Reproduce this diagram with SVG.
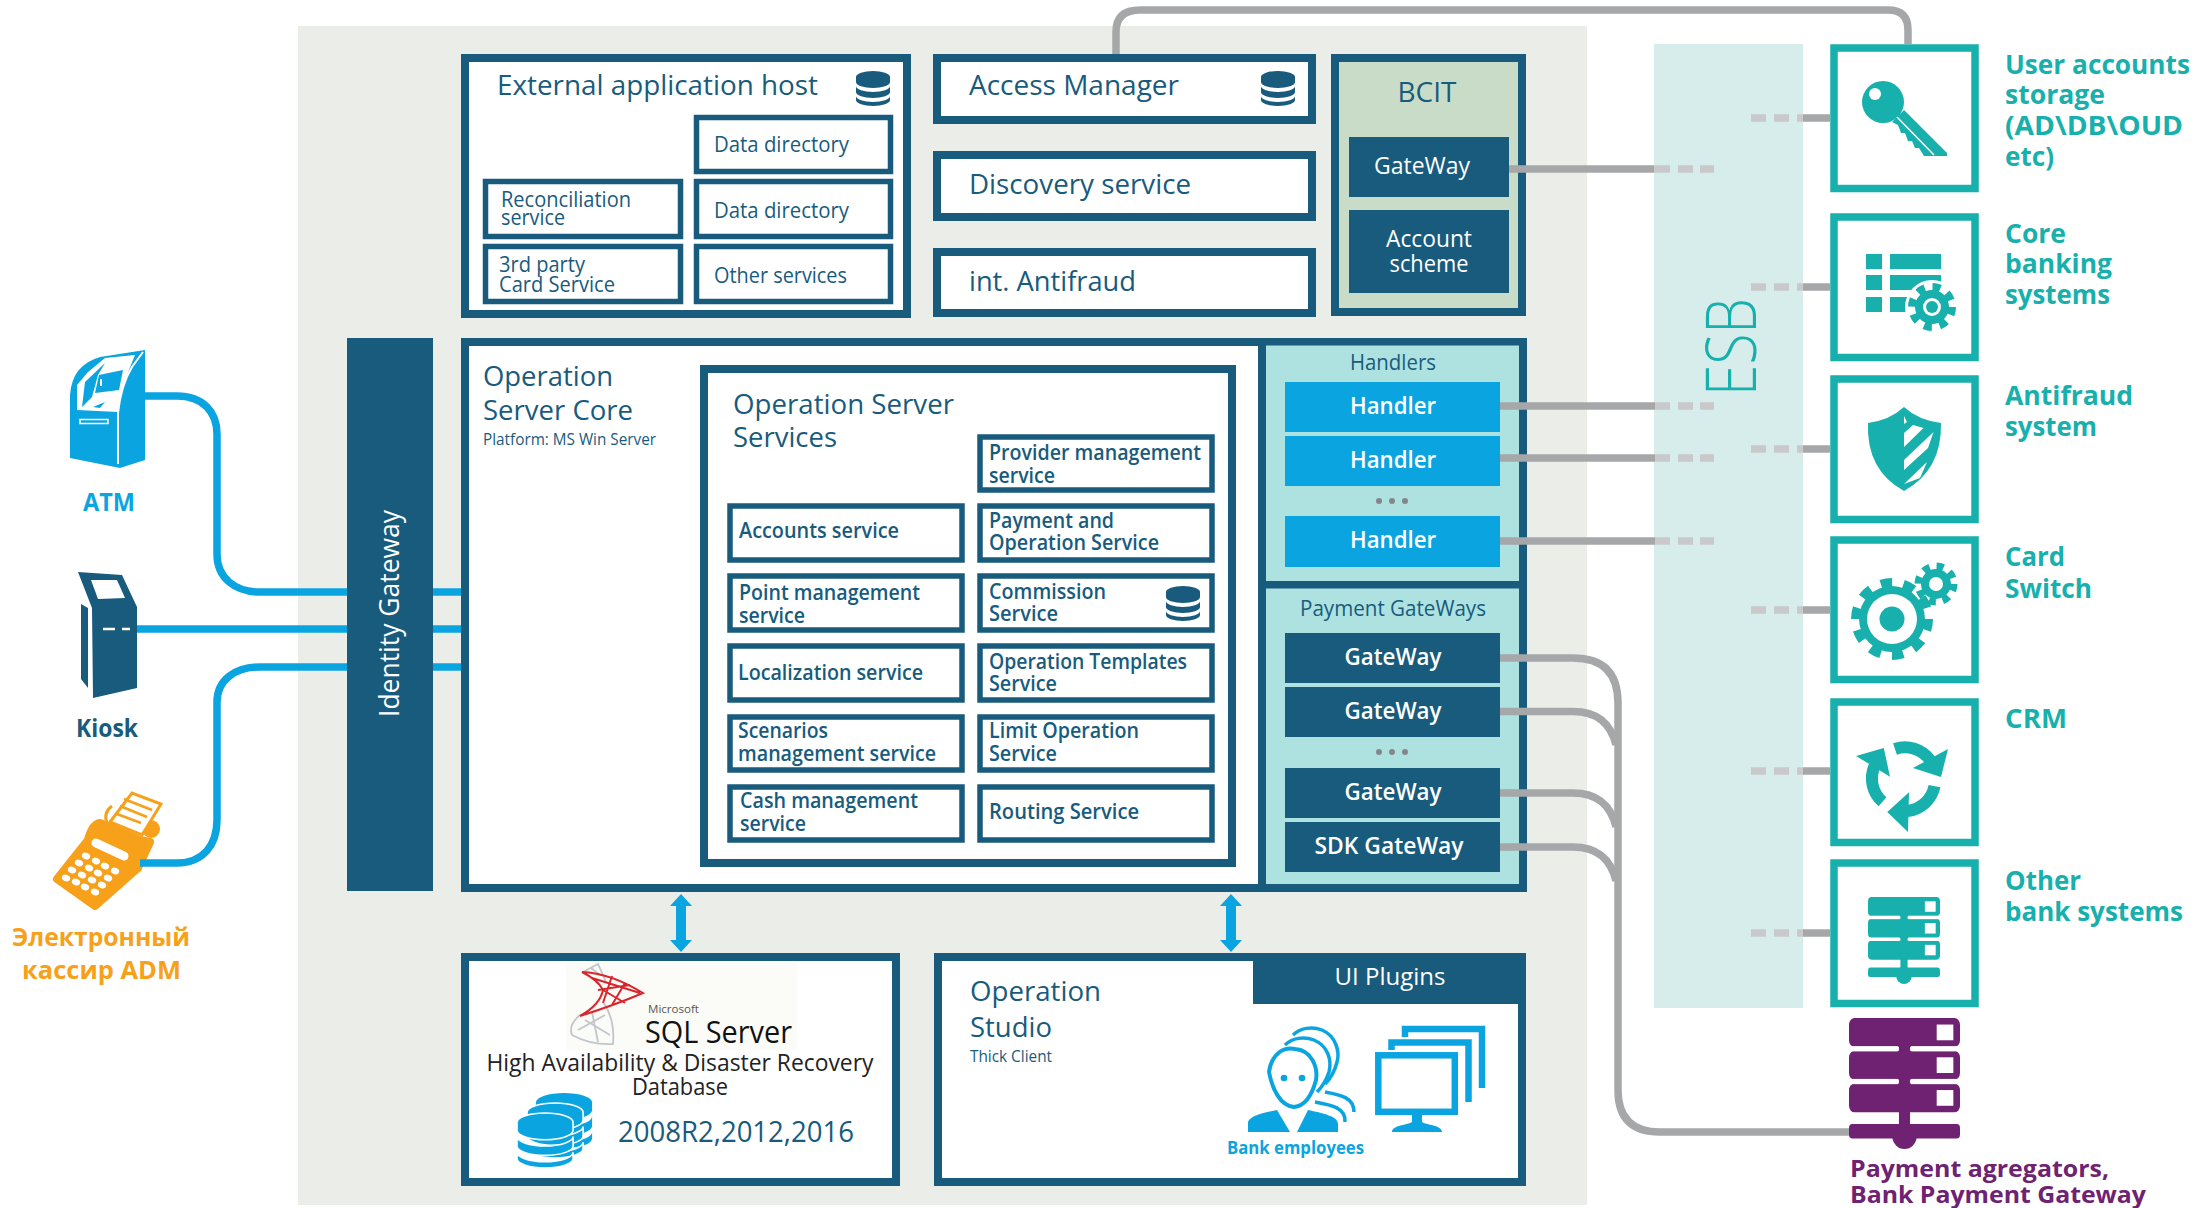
<svg xmlns="http://www.w3.org/2000/svg" width="2207" height="1208" viewBox="0 0 2207 1208">
<style>
text{font-family:"Open Sans","Noto Sans","Liberation Sans",sans-serif;fill:#185b7d}
.b{fill:#fff;stroke:#185b7d;stroke-width:8}
.i{fill:#fff;stroke:#185b7d;stroke-width:5.5}
.d{fill:#185b7d}
.s{font-size:21px}
.m{font-size:21px;font-weight:600}
.l{font-size:27px}
.w{fill:#fff}
.h{fill:#fff;font-size:24px;font-weight:600}
.t{fill:#17b0ad;font-size:27px;font-weight:700}
.tb{fill:#fff;stroke:#17b0ad;stroke-width:7.5}
.blue{fill:none;stroke:#0aa5e1;stroke-width:7.5}
.gray{fill:none;stroke:#a6a7a9;stroke-width:7.5}
.dash{fill:none;stroke:#c9c8ca;stroke-width:7.5}
.c{text-anchor:middle}
.ic{fill:#17b0ad}
</style>
<defs>
<g id="db">
<path d="M0 6A17 6 0 0 1 34 6V11A17 6 0 0 1 0 11Z"/>
<path d="M0 15A17 6 0 0 0 34 15V21A17 6 0 0 1 0 21Z"/>
<path d="M0 25A17 6 0 0 0 34 25V29A17 6 0 0 1 0 29Z"/>
</g>
<g id="srv">
<rect x="0" y="0" width="100" height="22" rx="5"/><rect x="0" y="25" width="100" height="22" rx="5"/><rect x="0" y="50" width="100" height="22" rx="5"/>
<rect x="45" y="20" width="10" height="62"/><rect x="0" y="81" width="100" height="11" rx="3"/>
<ellipse cx="50" cy="90" rx="11" ry="10"/>
<rect x="0" y="21.5" width="44" height="4" fill="#fff"/><rect x="56" y="21.5" width="44" height="4" fill="#fff"/>
<rect x="0" y="46.5" width="44" height="4" fill="#fff"/><rect x="56" y="46.5" width="44" height="4" fill="#fff"/>
<rect x="79" y="5" width="15" height="12" fill="#fff"/><rect x="79" y="30" width="15" height="12" fill="#fff"/><rect x="79" y="55" width="15" height="12" fill="#fff"/>
</g>
<ellipse id="key" rx="4.300" ry="3.200" transform="rotate(25)" fill="#fff"/>
</defs>

<rect id="background" x="298" y="26" width="1289" height="1179" fill="#ebeee8"/>
<rect id="esb-band" x="1654" y="44" width="149" height="964" fill="#d7edeb"/>

<g id="atm">
<path d="M70 458V395Q72 365 100 357L145 350V460L120 468Z" fill="#0aa5e1"/>
<path d="M118 464V413Q121 385 132 367L143 352" fill="none" stroke="#fff" stroke-width="2"/>
<path d="M77 410V385L88 372L105 358L135 355Q122 385 118 412Z" fill="#fff"/>
<path d="M85 382L105 363L98 375L92 397L82 407Z" fill="#0aa5e1"/>
<path d="M99 375L123 370L119 390L95 393Z" fill="#0aa5e1"/>
<path d="M93 407L105 402L100 408Z" fill="#0aa5e1"/>
<path d="M101 379V386" stroke="#fff" stroke-width="2"/>
<path d="M80 419.500H108V423.500H80Z" fill="none" stroke="#fff" stroke-width="1.500"/>
<text x="83" y="511" font-size="25" font-weight="700" textLength="52" lengthAdjust="spacingAndGlyphs" style="fill:#0aa5e1">ATM</text>
</g>
<g id="kiosk">
<path d="M78 572L122 575L137 607V688L93 698L92 608Z" fill="#185b7d"/>
<path d="M81 604L88 608V688L81 679Z" fill="#185b7d"/>
<path d="M91 580L117 580L125 598L98 599Z" fill="#fff"/>
<path d="M103 629H115M122 629H130" stroke="#fff" stroke-width="2.500"/>
<text x="76" y="737" font-size="25" font-weight="700" textLength="62" lengthAdjust="spacingAndGlyphs">Kiosk</text>
</g>
<g id="adm">
<circle cx="151" cy="829" r="9" fill="#f7a11a"/>
<path d="M107 824Q103 812 112 806" fill="none" stroke="#f7a11a" stroke-width="3"/>
<path d="M57 879L88 840Q92 824 100 823L140 840L150 842L138 868L95 906Z" fill="#f7a11a" stroke="#f7a11a" stroke-width="8" stroke-linejoin="round"/>
<path d="M110 822L132 793L161 804L142 835Z" fill="#fff" stroke="#f7a11a" stroke-width="3"/>
<path d="M124 799L152 810M120 806L147 817M117 814L141 823" stroke="#f7a11a" stroke-width="2.500"/>
<path d="M96 843L124 856" stroke="#fff" stroke-width="9" stroke-linecap="round"/>
<use href="#key" x="66" y="878"/><use href="#key" x="76" y="882"/><use href="#key" x="85" y="887"/><use href="#key" x="95" y="892"/>
<use href="#key" x="72" y="870"/><use href="#key" x="82" y="875"/><use href="#key" x="92" y="880"/><use href="#key" x="102" y="885"/>
<use href="#key" x="79" y="863"/><use href="#key" x="89" y="868"/><use href="#key" x="98" y="873"/><use href="#key" x="108" y="878"/>
<use href="#key" x="86" y="856"/><use href="#key" x="96" y="861"/><use href="#key" x="105" y="866"/><use href="#key" x="115" y="871"/>
<text x="12" y="946" font-size="25" font-weight="700" textLength="178" lengthAdjust="spacingAndGlyphs" style="fill:#f7a11a">Электронный</text>
<text x="22" y="979" font-size="25" font-weight="700" textLength="159" lengthAdjust="spacingAndGlyphs" style="fill:#f7a11a">кассир ADM</text>
</g>

<g id="identity-gateway">
<rect x="347" y="338" width="86" height="553" class="d"/>
<text transform="translate(399 717) rotate(-90)" font-size="27" textLength="207" lengthAdjust="spacingAndGlyphs" class="w">Identity Gateway</text>
</g>

<g id="external-application-host">
<rect x="465" y="58" width="442" height="256" class="b"/>
<text x="497" y="95" class="l" textLength="321" lengthAdjust="spacingAndGlyphs">External application host</text>
<use href="#db" x="856" y="71" fill="#185b7d"/>
<rect x="696.500" y="117.500" width="194" height="54" class="i"/>
<text x="714" y="152" class="s" textLength="135" lengthAdjust="spacingAndGlyphs">Data directory</text>
<rect x="696.500" y="181.500" width="194" height="55" class="i"/>
<text x="714" y="218" class="s" textLength="135" lengthAdjust="spacingAndGlyphs">Data directory</text>
<rect x="696.500" y="246.500" width="194" height="55" class="i"/>
<text x="714" y="283" class="s" textLength="133" lengthAdjust="spacingAndGlyphs">Other services</text>
<rect x="485.500" y="181.500" width="195" height="55" class="i"/>
<text x="501" y="207" class="s" textLength="130" lengthAdjust="spacingAndGlyphs">Reconciliation</text>
<text x="501" y="225" class="s" textLength="64" lengthAdjust="spacingAndGlyphs">service</text>
<rect x="485.500" y="246.500" width="195" height="55" class="i"/>
<text x="499" y="272" class="s" textLength="86" lengthAdjust="spacingAndGlyphs">3rd party</text>
<text x="499" y="292" class="s" textLength="116" lengthAdjust="spacingAndGlyphs">Card Service</text>
</g>
<g id="access-manager">
<rect x="937" y="58" width="375" height="62" class="b"/>
<text x="969" y="95" class="l" textLength="210" lengthAdjust="spacingAndGlyphs">Access Manager</text>
<use href="#db" x="1261" y="71" fill="#185b7d"/>
</g>
<g id="discovery-service">
<rect x="937" y="155" width="375" height="62" class="b"/>
<text x="969" y="194" class="l" textLength="222" lengthAdjust="spacingAndGlyphs">Discovery service</text>
</g>
<g id="int-antifraud">
<rect x="937" y="252" width="375" height="61" class="b"/>
<text x="969" y="291" class="l" textLength="167" lengthAdjust="spacingAndGlyphs">int. Antifraud</text>
</g>
<g id="bcit">
<rect x="1335" y="58" width="187" height="254" fill="#c9dcc8" stroke="#185b7d" stroke-width="8"/>
<text x="1427" y="102" class="c" font-size="27" textLength="59" lengthAdjust="spacingAndGlyphs">BCIT</text>
<rect x="1349" y="137" width="160" height="60" class="d"/>
<text x="1374" y="174" class="w" font-size="24" textLength="96" lengthAdjust="spacingAndGlyphs">GateWay</text>
<rect x="1349" y="210" width="160" height="83" class="d"/>
<text x="1429" y="247" class="c w" font-size="24" textLength="86" lengthAdjust="spacingAndGlyphs">Account</text>
<text x="1429" y="272" class="c w" font-size="24" textLength="79" lengthAdjust="spacingAndGlyphs">scheme</text>
</g>

<g id="operation-server-core">
<rect x="465" y="342" width="1058" height="546" class="b"/>
<text x="483" y="386" class="l" textLength="130" lengthAdjust="spacingAndGlyphs">Operation</text>
<text x="483" y="420" class="l" textLength="150" lengthAdjust="spacingAndGlyphs">Server Core</text>
<text x="483" y="445" font-size="16" textLength="173" lengthAdjust="spacingAndGlyphs">Platform: MS Win Server</text>
</g>
<g id="operation-server-services">
<rect x="704" y="369" width="528" height="494" class="b"/>
<text x="733" y="414" class="l" textLength="221" lengthAdjust="spacingAndGlyphs">Operation Server</text>
<text x="733" y="447" class="l" textLength="104" lengthAdjust="spacingAndGlyphs">Services</text>
<rect x="980" y="437" width="232" height="53" class="i"/>
<text x="989" y="460" class="m" textLength="212" lengthAdjust="spacingAndGlyphs">Provider management</text>
<text x="989" y="483" class="m" textLength="66" lengthAdjust="spacingAndGlyphs">service</text>
<rect x="730" y="506" width="232" height="54" class="i"/>
<text x="739" y="538" class="m" textLength="160" lengthAdjust="spacingAndGlyphs">Accounts service</text>
<rect x="980" y="506" width="232" height="54" class="i"/>
<text x="989" y="528" class="m" textLength="125" lengthAdjust="spacingAndGlyphs">Payment and</text>
<text x="989" y="550" class="m" textLength="170" lengthAdjust="spacingAndGlyphs">Operation Service</text>
<rect x="730" y="576" width="232" height="54" class="i"/>
<text x="739" y="600" class="m" textLength="181" lengthAdjust="spacingAndGlyphs">Point management</text>
<text x="739" y="623" class="m" textLength="66" lengthAdjust="spacingAndGlyphs">service</text>
<rect x="980" y="576" width="232" height="54" class="i"/>
<text x="989" y="599" class="m" textLength="117" lengthAdjust="spacingAndGlyphs">Commission</text>
<text x="989" y="621" class="m" textLength="69" lengthAdjust="spacingAndGlyphs">Service</text>
<use href="#db" x="1166" y="586" fill="#185b7d"/>
<rect x="730" y="646" width="232" height="54" class="i"/>
<text x="738" y="680" class="m" textLength="185" lengthAdjust="spacingAndGlyphs">Localization service</text>
<rect x="980" y="646" width="232" height="54" class="i"/>
<text x="989" y="669" class="m" textLength="198" lengthAdjust="spacingAndGlyphs">Operation Templates</text>
<text x="989" y="691" class="m" textLength="68" lengthAdjust="spacingAndGlyphs">Service</text>
<rect x="730" y="717" width="232" height="53" class="i"/>
<text x="738" y="738" class="m" textLength="90" lengthAdjust="spacingAndGlyphs">Scenarios</text>
<text x="738" y="761" class="m" textLength="198" lengthAdjust="spacingAndGlyphs">management service</text>
<rect x="980" y="717" width="232" height="53" class="i"/>
<text x="989" y="738" class="m" textLength="150" lengthAdjust="spacingAndGlyphs">Limit Operation</text>
<text x="989" y="761" class="m" textLength="68" lengthAdjust="spacingAndGlyphs">Service</text>
<rect x="730" y="787" width="232" height="53" class="i"/>
<text x="740" y="808" class="m" textLength="178" lengthAdjust="spacingAndGlyphs">Cash management</text>
<text x="740" y="831" class="m" textLength="66" lengthAdjust="spacingAndGlyphs">service</text>
<rect x="980" y="787" width="232" height="53" class="i"/>
<text x="989" y="819" class="m" textLength="150" lengthAdjust="spacingAndGlyphs">Routing Service</text>
</g>

<g id="handlers">
<rect x="1258" y="338" width="269" height="250.500" class="d"/>
<rect x="1266" y="345.500" width="253" height="235.500" fill="#ade2e0"/>
<text x="1393" y="370" class="c s" textLength="86" lengthAdjust="spacingAndGlyphs">Handlers</text>
<rect x="1285" y="382" width="215" height="50" fill="#0aa5e1"/>
<text x="1393" y="414" class="c h" textLength="86" lengthAdjust="spacingAndGlyphs">Handler</text>
<rect x="1285" y="436" width="215" height="50" fill="#0aa5e1"/>
<text x="1393" y="468" class="c h" textLength="86" lengthAdjust="spacingAndGlyphs">Handler</text>
<g fill="#85858c"><circle cx="1379" cy="501" r="3"/><circle cx="1392" cy="501" r="3"/><circle cx="1405" cy="501" r="3"/></g>
<rect x="1285" y="516" width="215" height="51" fill="#0aa5e1"/>
<text x="1393" y="548" class="c h" textLength="86" lengthAdjust="spacingAndGlyphs">Handler</text>
</g>
<g id="payment-gateways">
<rect x="1258" y="581" width="269" height="311" class="d"/>
<rect x="1266" y="588.500" width="253" height="295.500" fill="#ade2e0"/>
<text x="1393" y="616" class="c s" textLength="186" lengthAdjust="spacingAndGlyphs">Payment GateWays</text>
<rect x="1285" y="633" width="215" height="50" class="d"/>
<text x="1393" y="665" class="c h" textLength="97" lengthAdjust="spacingAndGlyphs">GateWay</text>
<rect x="1285" y="687" width="215" height="50" class="d"/>
<text x="1393" y="719" class="c h" textLength="97" lengthAdjust="spacingAndGlyphs">GateWay</text>
<g fill="#85858c"><circle cx="1379" cy="752" r="3"/><circle cx="1392" cy="752" r="3"/><circle cx="1405" cy="752" r="3"/></g>
<rect x="1285" y="768" width="215" height="50" class="d"/>
<text x="1393" y="800" class="c h" textLength="97" lengthAdjust="spacingAndGlyphs">GateWay</text>
<rect x="1285" y="822" width="215" height="50" class="d"/>
<text x="1389" y="854" class="c h" textLength="149" lengthAdjust="spacingAndGlyphs">SDK GateWay</text>
</g>

<g id="sql-server">
<rect x="465" y="957" width="431" height="225" class="b"/>
<rect x="566" y="963" width="231" height="87" fill="#fbfbf8"/>
<path fill="none" stroke="#c2c6cb" stroke-width="1.800" d="M583 972L598 964L606 982M591 968L600 975M580 1015Q568 1025 572 1035Q590 1045 613 1044Q615 1020 604 1003M585 1020L610 1035M578 1030L605 1015M592 1012L598 1042"/>
<path fill="none" stroke="#d9262c" stroke-width="2" d="M582 972Q610 973 643 993Q615 1005 580 1016Q600 1005 603 990Q598 980 582 972ZM592 978L640 993M598 990L630 985M612 976L603 1003M625 983L612 1005M603 990L625 1003"/>
<text x="648" y="1013" font-size="11" textLength="51" lengthAdjust="spacingAndGlyphs" style="fill:#555">Microsoft</text>
<text x="645" y="1043" font-size="31" textLength="147" lengthAdjust="spacingAndGlyphs" style="fill:#111">SQL Server</text>
<text x="680" y="1071" class="c" font-size="24" textLength="387" lengthAdjust="spacingAndGlyphs" style="fill:#222">High Availability &amp; Disaster Recovery</text>
<text x="680" y="1095" class="c" font-size="24" textLength="96" lengthAdjust="spacingAndGlyphs" style="fill:#222">Database</text>
<use href="#db" transform="translate(536 1093) scale(1.65 1.57)" fill="#0aa5e1"/>
<use href="#db" transform="translate(527 1103) scale(1.65 1.57)" fill="#0aa5e1" stroke="#fff" stroke-width="1"/>
<use href="#db" transform="translate(517 1113) scale(1.65 1.57)" fill="#0aa5e1" stroke="#fff" stroke-width="1"/>
<text x="618" y="1142" font-size="29" textLength="236" lengthAdjust="spacingAndGlyphs">2008R2,2012,2016</text>
</g>
<g id="operation-studio">
<rect x="938" y="957" width="584" height="225" class="b"/>
<rect x="1253" y="953" width="273" height="51" class="d"/>
<text x="1390" y="985" class="c w" font-size="24" textLength="111" lengthAdjust="spacingAndGlyphs">UI Plugins</text>
<text x="970" y="1001" class="l" textLength="131" lengthAdjust="spacingAndGlyphs">Operation</text>
<text x="970" y="1037" class="l" textLength="82" lengthAdjust="spacingAndGlyphs">Studio</text>
<text x="970" y="1062" font-size="16" textLength="82" lengthAdjust="spacingAndGlyphs">Thick Client</text>
<g fill="none" stroke="#0aa5e1" stroke-width="3.500">
<path d="M1293 1035C1300 1028 1312 1026 1322 1030C1336 1036 1340 1052 1337 1062C1335 1070 1331 1078 1325 1084"/>
<path d="M1285 1045C1292 1038 1304 1036 1314 1040C1328 1046 1332 1060 1329 1072C1327 1078 1323 1086 1317 1092"/>
<path d="M1269 1072C1272 1052 1285 1047 1295 1049C1312 1050 1318 1068 1316 1080C1312 1095 1305 1106 1294 1107C1280 1106 1272 1088 1269 1072Z" stroke-width="4"/>
<path d="M1325 1092C1342 1095 1354 1098 1354 1112M1315 1102C1332 1105 1346 1108 1345 1122"/>
</g>
<g fill="#0aa5e1">
<circle cx="1284" cy="1078" r="3.300"/><circle cx="1302" cy="1078" r="3.300"/>
<path d="M1248 1132V1122C1250 1116 1262 1113 1277 1110L1290 1132Z"/>
<path d="M1297 1132L1308 1110C1322 1113 1338 1116 1338 1124V1132Z"/>
<path d="M1405 1037V1029H1482V1088M1391.500 1050V1042.500H1468.500V1102" fill="none" stroke="#0aa5e1" stroke-width="6.500"/>
<rect x="1378.300" y="1055.300" width="76.500" height="56.500" fill="#fff" stroke="#0aa5e1" stroke-width="6.500"/>
<path d="M1412 1115H1422V1122C1426 1125 1442 1125 1442 1132H1392C1392 1125 1408 1125 1412 1122Z"/>
</g>
<text x="1227" y="1154" font-size="17" font-weight="700" textLength="137" lengthAdjust="spacingAndGlyphs" style="fill:#0aa5e1">Bank employees</text>
</g>

<g id="esb-label">
<text transform="translate(1756 396) rotate(-90)" font-size="70" font-weight="300" textLength="98" lengthAdjust="spacingAndGlyphs" style="fill:#17b0ad">ESB</text>
</g>

<g id="user-accounts">
<rect x="1834" y="48" width="141" height="140.500" class="tb"/>
<circle cx="1883" cy="102" r="21" class="ic"/><circle cx="1875" cy="94" r="6" fill="#fff"/>
<path class="ic" d="M1904 110L1947 153V156H1924L1919 148H1915L1912 141H1908L1905 133H1901L1898 125L1892 122Z"/>
<path d="M1897 117L1934 155" stroke="#fff" stroke-width="1.500"/>
<text x="2005" y="74" class="t" textLength="185" lengthAdjust="spacingAndGlyphs">User accounts</text>
<text x="2005" y="104" class="t" textLength="100" lengthAdjust="spacingAndGlyphs">storage</text>
<text x="2005" y="135" class="t" textLength="178" lengthAdjust="spacingAndGlyphs">(AD\DB\OUD</text>
<text x="2005" y="166" class="t" textLength="49" lengthAdjust="spacingAndGlyphs">etc)</text>
</g>
<g id="core-banking">
<rect x="1834" y="217" width="141" height="140.500" class="tb"/>
<g class="ic"><rect x="1866" y="254" width="16" height="15"/><rect x="1890" y="254" width="51" height="15"/><rect x="1866" y="275" width="16" height="15"/><rect x="1890" y="275" width="51" height="15"/><rect x="1866" y="297" width="16" height="15"/><rect x="1890" y="297" width="30" height="15"/></g>
<circle cx="1932" cy="307" r="27" fill="#fff"/>
<circle cx="1932" cy="307" r="17" class="ic"/>
<circle cx="1932" cy="307" r="20" fill="none" stroke="#17b0ad" stroke-width="8" stroke-dasharray="7.850 7.850"/>
<circle cx="1932" cy="307" r="9" fill="#fff"/><circle cx="1932" cy="307" r="6" class="ic"/>
<text x="2005" y="243" class="t" textLength="61" lengthAdjust="spacingAndGlyphs">Core</text>
<text x="2005" y="273" class="t" textLength="107" lengthAdjust="spacingAndGlyphs">banking</text>
<text x="2005" y="304" class="t" textLength="105" lengthAdjust="spacingAndGlyphs">systems</text>
</g>
<g id="antifraud-system">
<rect x="1834" y="379" width="141" height="140.500" class="tb"/>
<path class="ic" d="M1904 407Q1890 420 1868 423Q1866 470 1904 491Q1942 470 1941 423Q1918 420 1904 407Z"/>
<path fill="#fff" d="M1904 416L1907 422L1904 424ZM1904 433L1913 425L1923.500 428L1904 447ZM1904 460L1933.500 432L1928 448L1904 470ZM1904 484L1927 462L1920 478Z"/>
<text x="2005" y="405" class="t" textLength="128" lengthAdjust="spacingAndGlyphs">Antifraud</text>
<text x="2005" y="436" class="t" textLength="92" lengthAdjust="spacingAndGlyphs">system</text>
</g>
<g id="card-switch">
<rect x="1834" y="540" width="141" height="139.500" class="tb"/>
<circle cx="1892" cy="619" r="33" class="ic"/>
<circle cx="1892" cy="619" r="36" fill="none" stroke="#17b0ad" stroke-width="10" stroke-dasharray="11.300 11.300"/>
<circle cx="1892" cy="619" r="25" fill="#fff"/><circle cx="1892" cy="619" r="12.500" class="ic"/>
<circle cx="1936" cy="584" r="15" class="ic"/>
<circle cx="1936" cy="584" r="17" fill="none" stroke="#17b0ad" stroke-width="9" stroke-dasharray="6.680 6.680"/>
<circle cx="1936" cy="584" r="7" fill="#fff"/>
<text x="2005" y="566" class="t" textLength="60" lengthAdjust="spacingAndGlyphs">Card</text>
<text x="2005" y="598" class="t" textLength="87" lengthAdjust="spacingAndGlyphs">Switch</text>
</g>
<g id="crm">
<rect x="1834" y="702" width="141" height="140.500" class="tb"/>
<g transform="translate(1904 779)">
<g><path d="M-9 -30A31 31 0 0 1 26 -19" fill="none" stroke="#17b0ad" stroke-width="12"/><path class="ic" d="M44 -30L37 -2L9 -11Z"/></g>
<g transform="rotate(120)"><path d="M-9 -30A31 31 0 0 1 26 -19" fill="none" stroke="#17b0ad" stroke-width="12"/><path class="ic" d="M44 -30L37 -2L9 -11Z"/></g>
<g transform="rotate(240)"><path d="M-9 -30A31 31 0 0 1 26 -19" fill="none" stroke="#17b0ad" stroke-width="12"/><path class="ic" d="M44 -30L37 -2L9 -11Z"/></g>
</g>
<text x="2005" y="728" class="t" textLength="62" lengthAdjust="spacingAndGlyphs">CRM</text>
</g>
<g id="other-bank-systems">
<rect x="1834" y="863" width="141" height="140.500" class="tb"/>
<use href="#srv" transform="translate(1868 897) scale(.72 .87)" fill="#17b0ad"/>
<text x="2005" y="890" class="t" textLength="76" lengthAdjust="spacingAndGlyphs">Other</text>
<text x="2005" y="921" class="t" textLength="178" lengthAdjust="spacingAndGlyphs">bank systems</text>
</g>
<g id="payment-aggregators">
<use href="#srv" transform="translate(1849 1018) scale(1.11 1.31)" fill="#6f2272"/>
<text x="1850" y="1177" font-size="24" font-weight="700" textLength="259" lengthAdjust="spacingAndGlyphs" style="fill:#6f2272">Payment agregators,</text>
<text x="1850" y="1203" font-size="24" font-weight="700" textLength="296" lengthAdjust="spacingAndGlyphs" style="fill:#6f2272">Bank Payment Gateway</text>
</g>

<g id="connectors">
<path class="blue" d="M145 396H177C203 396 217 412 217 434V554C217 578 235 592 260 592H347M433 592H461"/>
<path class="blue" d="M137 629H347M433 629H461"/>
<path class="blue" d="M140 863H177C203 863 217 845 217 820V702C217 680 235 667 260 667H347M433 667H461"/>
<path class="gray" d="M1116 54V32Q1116 10 1140 10H1888Q1908 10 1908 30V44"/>
<path class="gray" d="M1509 169H1654M1500 406H1655M1500 458H1655M1500 541H1655"/>
<path class="dash" d="M1654 169H1670M1678 169H1693M1700 169H1714M1655 406H1670M1678 406H1693M1700 406H1714M1655 458H1670M1678 458H1693M1700 458H1714M1655 541H1670M1678 541H1693M1700 541H1714"/>
<path class="dash" d="M1751 118H1766M1774 118H1789M1797 118H1803M1751 287H1766M1774 287H1789M1797 287H1803M1751 449H1766M1774 449H1789M1797 449H1803M1751 610H1766M1774 610H1789M1797 610H1803M1751 771H1766M1774 771H1789M1797 771H1803M1751 933H1766M1774 933H1789M1797 933H1803"/>
<path class="gray" d="M1803 118H1830M1803 287H1830M1803 449H1830M1803 610H1830M1803 771H1830M1803 933H1830"/>
<path class="gray" d="M1500 658H1573Q1618 658 1618 703V1090Q1618 1132 1660 1132H1849"/>
<path class="gray" d="M1500 711.500H1573Q1608 711.500 1616 745M1500 793H1573Q1608 793 1616 827M1500 847H1573Q1608 847 1616 881"/>
<g fill="#0aa5e1">
<path d="M681 894L692 906H686V940H692L681 952L670 940H676V906H670Z"/>
<path d="M1231 894L1242 906H1236V940H1242L1231 952L1220 940H1226V906H1220Z"/>
</g>
</g>
</svg>
